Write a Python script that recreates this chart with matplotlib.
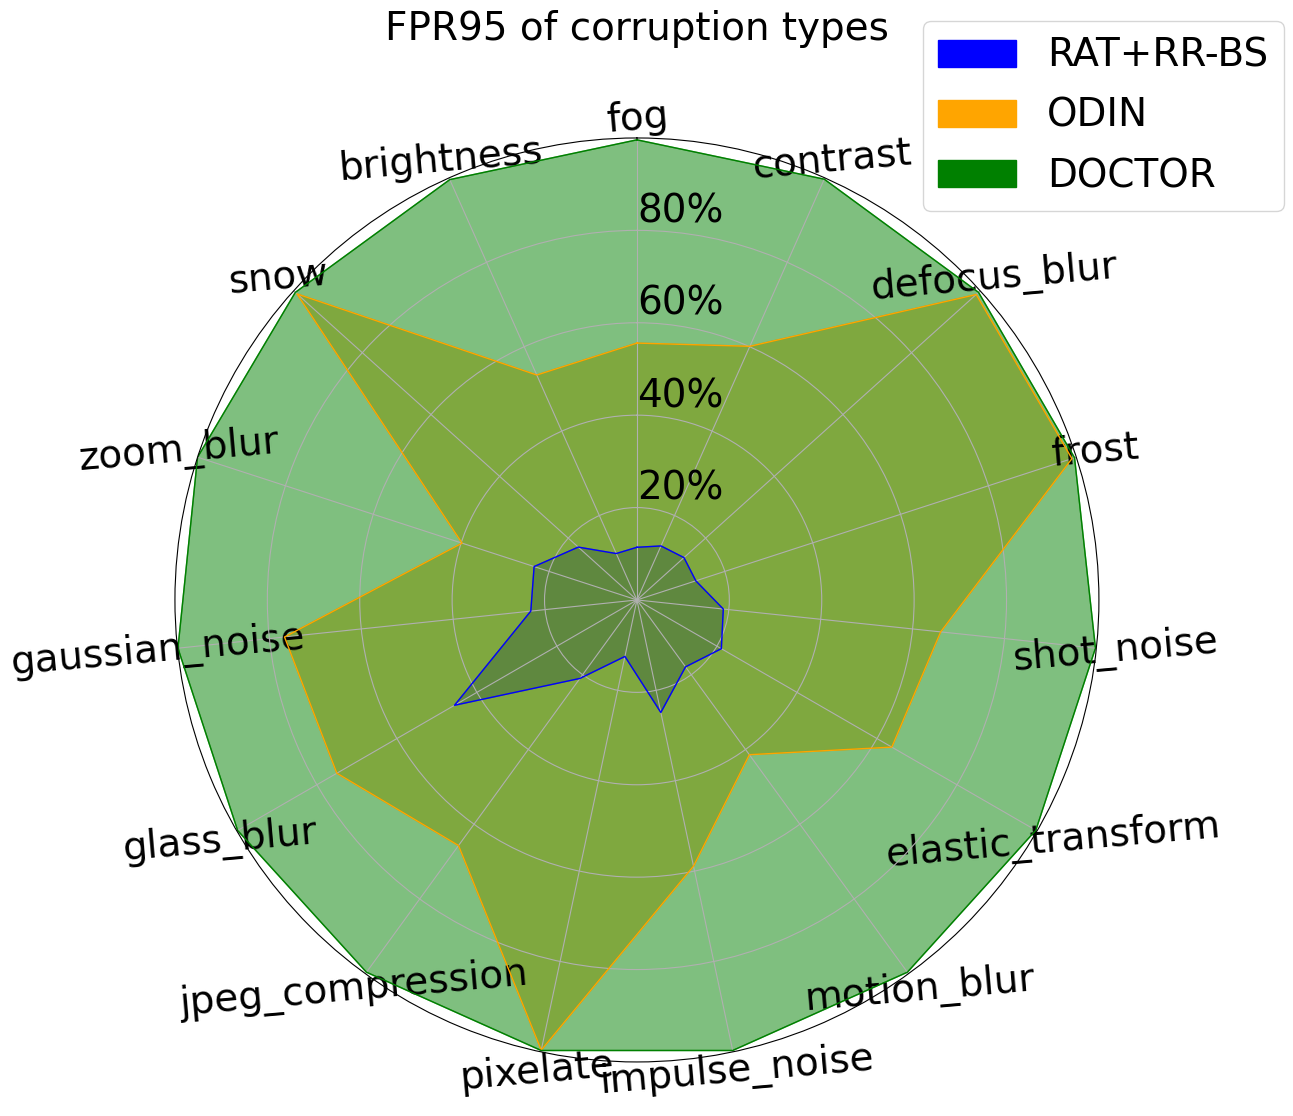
import numpy as np
import matplotlib
matplotlib.use("Agg")
import matplotlib.pyplot as plt
import matplotlib.patches as mpatches

# categories, clockwise from the top
categories = ["fog", "contrast", "defocus_blur", "frost", "shot_noise",
              "elastic_transform", "motion_blur", "impulse_noise", "pixelate",
              "jpeg_compression", "glass_blur", "gaussian_noise", "zoom_blur",
              "snow", "brightness"]

# FPR95 (%) per method
rat_rr_bs = [11.4, 12.8, 13.7, 13.4, 18.8, 21.1, 17.9, 24.9, 12.5,
             21.0, 45.6, 23.1, 23.4, 17.1, 11.0]
odin = [55.6, 60.1, 98.8, 99.0, 66.1, 63.7, 41.4, 58.9, 99.6,
        65.7, 75.0, 76.7, 39.8, 99.0, 53.3]
doctor = [99.6, 99.7, 99.5, 99.6, 99.8, 99.7, 99.6, 99.7, 99.7,
          99.6, 99.8, 99.9, 100.0, 99.5, 99.6]

methods = ["RAT+RR-BS", "ODIN", "DOCTOR"]
colors = ["blue", "orange", "green"]
series = [rat_rr_bs, odin, doctor]

rticks = [20, 40, 60, 80]
rtick_labels = ["20%", "40%", "60%", "80%"]

fs = 28

fig = plt.figure(figsize=(12.93, 11.16), dpi=100)
ax = fig.add_axes([0.1353, 0.0484, 0.7146, 0.828], projection="polar")
ax.set_theta_offset(np.pi / 2)
ax.set_theta_direction(-1)

angles = np.linspace(0, 2 * np.pi, len(categories), endpoint=False).tolist()
angles_closed = angles + angles[:1]

for vals, c in zip(series, colors):
    v = list(vals) + vals[:1]
    ax.plot(angles_closed, v, color=c, linewidth=1)
    ax.fill(angles_closed, v, color=c, alpha=0.5)

ax.set_xticks(angles)
ax.set_xticklabels(categories)
ax.tick_params(axis="x", labelsize=fs, labelrotation=5)

ax.set_rlabel_position(0)
ax.set_yticks(rticks)
ax.set_yticklabels(rtick_labels, fontsize=fs, color="black")
ax.set_ylim(0, 100)

ax.set_title("FPR95 of corruption types", fontsize=fs, y=1.106, pad=0)

handles = [mpatches.Patch(color=c, label=m) for m, c in zip(methods, colors)]
ax.legend(handles=handles, loc="upper right", fontsize=fs,
          bbox_to_anchor=(0.993, 0.981), bbox_transform=fig.transFigure,
          borderaxespad=0, labelspacing=0.57)

fig.savefig("out.png", dpi=100)
